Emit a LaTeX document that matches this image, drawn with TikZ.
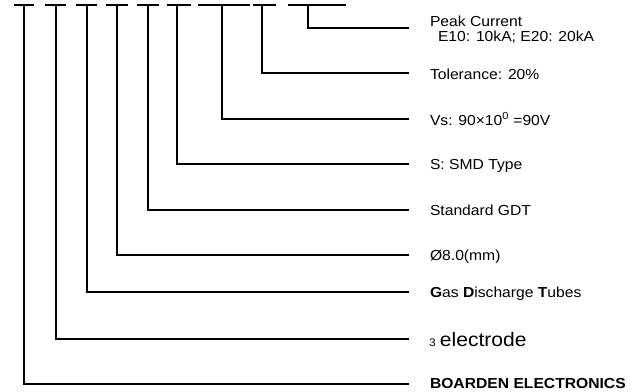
\documentclass[tikz,border=0pt]{standalone}
\usepackage{fontspec}
\setmainfont{Liberation Sans}[FakeStretch=1.08]
\begin{document}
\begin{tikzpicture}[x=1pt,y=-1pt,
  wire/.style={line width=1.1pt,line cap=butt},
  lbl/.style={anchor=base west,inner sep=0pt,outer sep=0pt,font=\fontsize{14.5}{17}\selectfont}]
\useasboundingbox (0,0) rectangle (642,391);
% top bars (part-number fields)
\foreach \i/\a/\b/\v in {1/14/34/24, 2/45/66/56, 3/76/97/87, 4/106/128/117, 5/137/159/148, 6/167/191/177, 7/198/250/222, 8/253/276/262, 9/288/346/308}{
  \coordinate (bl\i) at (\a,5);
  \coordinate (br\i) at (\b,5);
  \coordinate (top\i) at (\v,5);
  \draw[wire] (bl\i) -- (br\i);
}
% row end points
\foreach \i/\y in {9/28, 8/73, 7/119, 6/164, 5/210, 4/255, 3/292, 2/339, 1/384}{
  \coordinate (end\i) at (409,\y);
  \draw[wire] (top\i) |- (end\i);
}
% labels
\node[lbl,anchor=north west,align=left,font=\fontsize{14.5}{15}\selectfont] (t9) at (430,16.2)
  {Peak Current\\\hspace*{8pt}E10: 10kA; E20: 20kA};
\node[lbl] (t8) at (430,79) {Tolerance: 20\%};
\node[lbl] (t7) at (430,125) {Vs: 90×10\textsuperscript{0} =90V};
\node[lbl] (t6) at (430,169.5) {S: SMD Type};
\node[lbl] (t5) at (430,215.5) {Standard GDT};
\node[lbl] (t4) at (430,260.5) {Ø8.0(mm)};
\node[lbl] (t3) at (430,297) {\textbf{G}as \textbf{D}ischarge \textbf{T}ubes};
\node[lbl] (t2) at (429,346) {{\fontsize{11}{13}\selectfont 3} {\fontsize{19.5}{22}\selectfont electrode}};
\node[lbl] (t1) at (430,388.5) {\textbf{BOARDEN ELECTRONICS}};
\end{tikzpicture}
\end{document}
